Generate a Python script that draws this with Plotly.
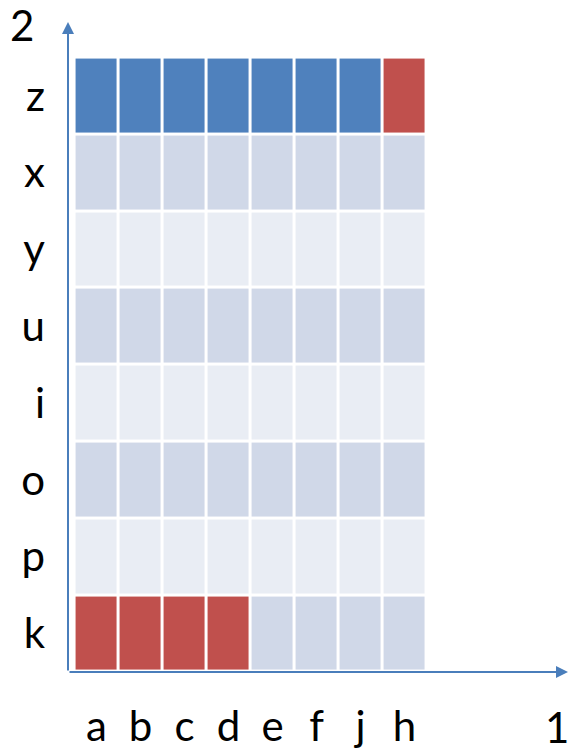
import plotly.graph_objects as go

columns = ['a', 'b', 'c', 'd', 'e', 'f', 'j', 'h']
rows_top_to_bottom = ['z', 'x', 'y', 'u', 'i', 'o', 'p', 'k']
# cell states per row (top to bottom): B = blue, R = red, D = darker grey-blue, L = light
cell_states = {
    'z': ['B', 'B', 'B', 'B', 'B', 'B', 'B', 'R'],
    'x': ['D'] * 8,
    'y': ['L'] * 8,
    'u': ['D'] * 8,
    'i': ['L'] * 8,
    'o': ['D'] * 8,
    'p': ['L'] * 8,
    'k': ['R', 'R', 'R', 'R', 'D', 'D', 'D', 'D'],
}
x_axis_label = '1'
y_axis_label = '2'

state_code = {'L': 0, 'D': 1, 'B': 2, 'R': 3}
state_colors = ['#E9EDF4', '#D0D8E8', '#4F81BD', '#C0504D']

rows_bottom_to_top = rows_top_to_bottom[::-1]
zmat = [[state_code[s] for s in cell_states[r]] for r in rows_bottom_to_top]

colorscale = []
n = len(state_colors)
for i, c in enumerate(state_colors):
    colorscale.append([i / n, c])
    colorscale.append([(i + 1) / n, c])

fig = go.Figure(go.Heatmap(
    z=zmat,
    x=columns,
    y=rows_bottom_to_top,
    zmin=-0.5, zmax=n - 0.5,
    colorscale=colorscale,
    showscale=False,
    xgap=3, ygap=3,
    hoverinfo='skip',
))

W, H = 569, 751
ml, mr, mt, mb = 68, 1, 22, 79
pw, ph = W - ml - mr, H - mt - mb
font = dict(family='Lato, Carlito, Calibri, sans-serif', size=42, color='#000000')

fig.update_layout(
    width=W, height=H,
    margin=dict(l=ml, r=mr, t=mt, b=mb, autoexpand=False),
    paper_bgcolor='white', plot_bgcolor='white',
    font=font,
    xaxis=dict(range=[-0.648, 10.716], showgrid=False, zeroline=False, showline=False,
               ticks='', tickfont=font, tickmode='array', tickvals=columns,
               ticktext=columns, ticklabelstandoff=26, automargin=False),
    yaxis=dict(range=[-0.5, 7.963], showgrid=False, zeroline=False, showline=False,
               ticks='', tickfont=font, tickmode='array', tickvals=rows_bottom_to_top,
               ticktext=rows_bottom_to_top, ticklabelstandoff=22, automargin=False),
    annotations=[
        # x axis arrow
        dict(xref='paper', yref='paper', x=1, y=0, ax=-pw, ay=0,
             axref='pixel', ayref='pixel', text='', showarrow=True,
             arrowhead=2, arrowsize=1.2, arrowwidth=2, arrowcolor='#4A7EBB'),
        # y axis arrow
        dict(xref='paper', yref='paper', x=0, y=1, ax=0, ay=ph,
             axref='pixel', ayref='pixel', text='', showarrow=True,
             arrowhead=2, arrowsize=1.2, arrowwidth=2, arrowcolor='#4A7EBB'),
        dict(xref='paper', yref='paper', x=-46 / pw, y=1 - 3 / ph,
             text=y_axis_label, showarrow=False, font=font, xanchor='center', yanchor='middle'),
        dict(xref='paper', yref='paper', x=1 - 11 / pw, y=-55 / ph,
             text=x_axis_label, showarrow=False, font=font, xanchor='center', yanchor='middle'),
    ],
)

fig.write_html(
    'out.html',
    config={'displayModeBar': False},
    post_script="document.body.style.margin='0';document.body.style.overflow='hidden';",
)
